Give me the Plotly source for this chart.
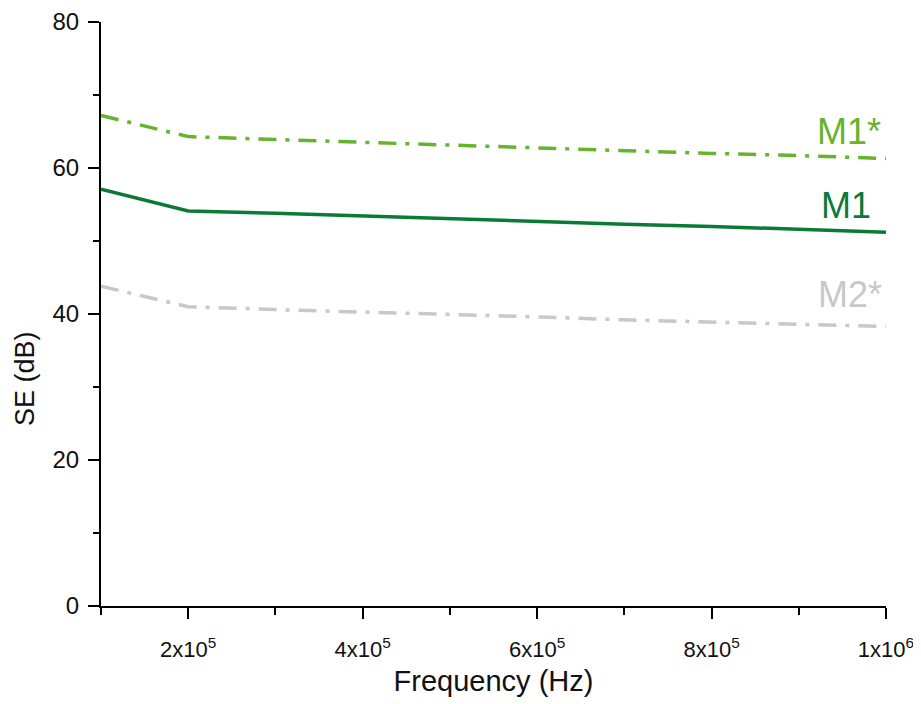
import plotly.graph_objects as go

freq = [1e5, 2e5, 3e5, 4e5, 5e5, 6e5, 7e5, 8e5, 9e5, 1e6]
m1_star = [67.2, 64.3, 63.9, 63.5, 63.1, 62.7, 62.4, 62.0, 61.7, 61.3]
m1 = [57.1, 54.1, 53.8, 53.4, 53.0, 52.7, 52.3, 52.0, 51.6, 51.2]
m2_star = [43.8, 41.0, 40.6, 40.3, 39.9, 39.6, 39.2, 38.9, 38.6, 38.3]

x_tickvals = [2e5, 4e5, 6e5, 8e5, 1e6]
x_ticktext = ["2x10<sup>5</sup>", "4x10<sup>5</sup>", "6x10<sup>5</sup>", "8x10<sup>5</sup>", "1x10<sup>6</sup>"]

label_text = ["M1*", "M1", "M2*"]
label_y = [65.3, 55.2, 42.9]

C_M1S = "#66b32e"
C_M1 = "#0b7a37"
C_M2S = "#c8c8c8"
dashdot = "18px,9px,4px,9px"
FONT = "Liberation Sans, Arial, sans-serif"

fig = go.Figure()
fig.add_trace(go.Scatter(x=freq, y=m1_star, mode="lines", name="M1*",
                         line=dict(color=C_M1S, width=3.5, dash=dashdot)))
fig.add_trace(go.Scatter(x=freq, y=m1, mode="lines", name="M1",
                         line=dict(color=C_M1, width=3.5)))
fig.add_trace(go.Scatter(x=freq, y=m2_star, mode="lines", name="M2*",
                         line=dict(color=C_M2S, width=3.5, dash=dashdot)))

label_x = [0.953, 0.949, 0.954]
for txt, yy, xx, col in zip(label_text, label_y, label_x, [C_M1S, C_M1, C_M2S]):
    fig.add_annotation(xref="paper", x=xx, yref="y", y=yy, text=txt, showarrow=False,
                       xanchor="center", yanchor="middle", yshift=-2,
                       font=dict(size=36, color=col, family=FONT))

# y-axis title (placed like the reference, below the axis centre)
fig.add_annotation(xref="paper", x=-0.097, yref="paper", y=0.39, text="SE (dB)",
                   showarrow=False, textangle=-90, xanchor="center", yanchor="middle",
                   font=dict(size=27, color="#111111", family=FONT))

fig.update_layout(
    width=921, height=704,
    margin=dict(l=93, r=43, t=14, b=106),
    paper_bgcolor="white", plot_bgcolor="white",
    showlegend=False,
    font=dict(family=FONT, size=24, color="#111111"),
    xaxis=dict(range=[1e5, 1e6], tickvals=x_tickvals, ticktext=x_ticktext, automargin=False,
               showgrid=False, zeroline=False, showline=True, linecolor="black", linewidth=2,
               ticks="outside", ticklen=11, tickwidth=2, tickcolor="black",
               tickfont=dict(size=22), ticklabelstandoff=12,
               minor=dict(ticks="outside", ticklen=7, tickwidth=2, tickcolor="black", dtick=1e5, tick0=0, showgrid=False),
               title=dict(text="Frequency (Hz)", font=dict(size=29), standoff=9)),
    yaxis=dict(range=[0, 80], dtick=20, tick0=0, automargin=False,
               showgrid=False, zeroline=False, showline=True, linecolor="black", linewidth=2,
               ticks="outside", ticklen=11, tickwidth=2, tickcolor="black",
               tickfont=dict(size=24), ticklabelstandoff=4,
               minor=dict(ticks="outside", ticklen=6, tickwidth=2, tickcolor="black", dtick=10, tick0=0, showgrid=False)),
)

fig.write_html("out.html")
